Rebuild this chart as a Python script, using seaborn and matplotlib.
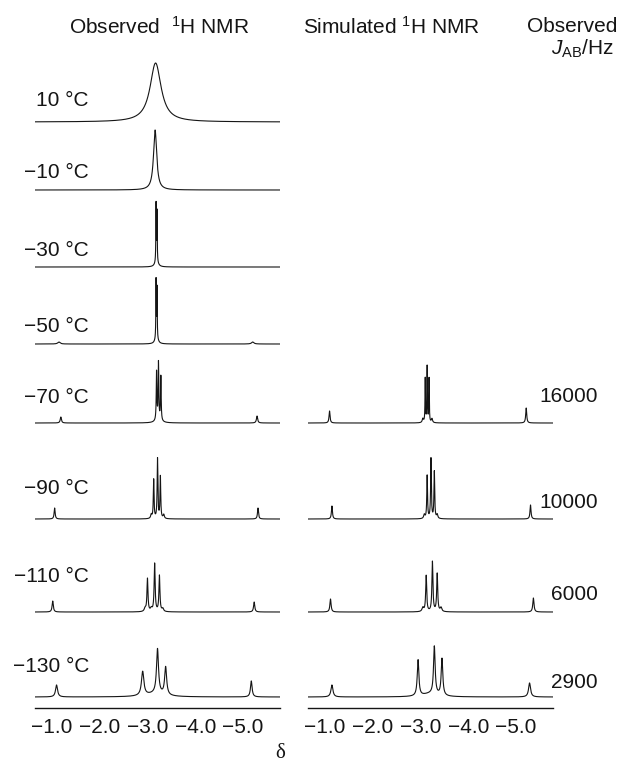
import numpy as np
import pandas as pd
import matplotlib
matplotlib.use("Agg")
import matplotlib.pyplot as plt
import seaborn as sns

# ---------------- data ----------------
# Each peak: (chemical shift in ppm, relative height, line width FWHM in ppm)
obs_temps = ["10 °C", "−10 °C", "−30 °C", "−50 °C", "−70 °C", "−90 °C", "−110 °C", "−130 °C"]
obs_10 = [(-3.17, 59, 0.28)]
obs_m10 = [(-3.16, 60, 0.08)]
obs_m30 = [(-3.18, 58, 0.010), (-3.20, 50, 0.010), (-3.19, 5, 0.08)]
obs_m50 = [(-1.15, 2, 0.06), (-3.18, 58, 0.010), (-3.20, 50, 0.010), (-3.19, 6, 0.07), (-5.20, 2, 0.06)]
obs_m70 = [(-1.19, 6, 0.03), (-3.19, 48, 0.015), (-3.23, 56, 0.015), (-3.28, 44, 0.015),
           (-3.23, 4, 0.12), (-5.29, 7, 0.03)]
obs_m90 = [(-1.06, 11, 0.025), (-3.13, 39, 0.018), (-3.21, 60, 0.018), (-3.27, 42, 0.018),
           (-3.08, 4, 0.03), (-3.34, 4, 0.03), (-5.31, 11, 0.025)]
obs_m110 = [(-1.02, 11, 0.03), (-3.00, 33, 0.025), (-3.15, 48, 0.025), (-3.25, 36, 0.025),
            (-2.95, 3, 0.04), (-3.08, 3, 0.04), (-3.32, 3, 0.04), (-5.23, 10, 0.03)]
obs_m130 = [(-1.10, 12, 0.05), (-2.90, 24, 0.06), (-3.21, 45, 0.05), (-3.38, 28, 0.05),
            (-3.15, 3, 0.5), (-5.17, 16, 0.04)]

sim_labels = ["16000", "10000", "6000", "2900"]
sim_m70 = [(-1.10, 12, 0.025), (-3.10, 44, 0.012), (-3.14, 56, 0.012), (-3.18, 44, 0.012),
           (-3.05, 4, 0.03), (-3.24, 4, 0.03), (-5.21, 15, 0.025)]
sim_m90 = [(-1.15, 13, 0.025), (-3.14, 43, 0.018), (-3.22, 60, 0.018), (-3.29, 47, 0.018),
           (-3.08, 4, 0.03), (-3.35, 4, 0.03), (-5.30, 14, 0.025)]
sim_m110 = [(-1.12, 13, 0.03), (-3.12, 36, 0.025), (-3.25, 50, 0.025), (-3.35, 38, 0.025),
            (-3.05, 4, 0.04), (-3.43, 4, 0.04), (-5.36, 14, 0.03)]
sim_m130 = [(-1.15, 12, 0.05), (-2.95, 36, 0.04), (-3.29, 48, 0.04), (-3.45, 37, 0.04),
            (-3.20, 3, 0.4), (-5.28, 14, 0.05)]

tick_values = [-1.0, -2.0, -3.0, -4.0, -5.0]
tick_labels = ["−1.0", "−2.0", "−3.0", "−4.0", "−5.0"]

# ---------------- layout (pixel based) ----------------
W, H = 618, 763
sns.set_style("white")
plt.rcParams["font.family"] = ["Liberation Sans", "DejaVu Sans"]
plt.rcParams["mathtext.fontset"] = "custom"
plt.rcParams["mathtext.rm"] = "Liberation Sans"
plt.rcParams["mathtext.it"] = "Liberation Sans:italic"

FS = 15
INK = "#151515"
axis_y = 708
top_y = 50
xlim = (-0.65, -5.77)

fig = plt.figure(figsize=(W / 100, H / 100), dpi=100)
def px_axes(x0, x1):
    return fig.add_axes([x0 / W, (H - axis_y) / H, (x1 - x0) / W, (axis_y - top_y) / H])

axL = px_axes(35, 280)
axR = px_axes(308, 553)

obs_base_px = [122, 190, 267, 344, 423, 519, 612, 697]
sim_base_px = [423, 519, 612, 697]

grid = np.linspace(xlim[0], xlim[1], 9000)

def spectrum(peaks):
    y = np.zeros_like(grid)
    for pos, amp, w in peaks:
        y += amp / (1.0 + ((grid - pos) / (w / 2.0)) ** 2)
    return y

def draw(ax, traces, bases):
    for peaks, b in zip(traces, bases):
        df = pd.DataFrame({"delta": grid, "I": (axis_y - b) + spectrum(peaks)})
        sns.lineplot(data=df, x="delta", y="I", ax=ax, color=INK, linewidth=0.8,
                     estimator=None, sort=False)

draw(axL, [obs_10, obs_m10, obs_m30, obs_m50, obs_m70, obs_m90, obs_m110, obs_m130], obs_base_px)
draw(axR, [sim_m70, sim_m90, sim_m110, sim_m130], sim_base_px)

for ax in (axL, axR):
    ax.set_xlim(*xlim)
    ax.set_ylim(0, axis_y - top_y)
    ax.set_xlabel("")
    ax.set_ylabel("")
    ax.set_yticks([])
    for s in ("top", "left", "right"):
        ax.spines[s].set_visible(False)
    ax.spines["bottom"].set_color(INK)
    ax.spines["bottom"].set_linewidth(1.0)
    ax.set_xticks(tick_values)
    ax.set_xticklabels(tick_labels, fontsize=FS, color=INK)
    ax.tick_params(axis="x", direction="out", length=3, width=0.8, color=INK, pad=4)
    ax.patch.set_alpha(0)

def ftext(x, y, s, **kw):
    fig.text(x / W, 1 - y / H, s, fontsize=FS, color=INK, va="center", **kw)

for lab, b in zip(obs_temps, [100, 173, 251, 326, 398, 488, 577, 667]):
    ftext(89, b, lab, ha="right")
for lab, b in zip(sim_labels, [397, 502, 595, 682]):
    ftext(598, b, lab, ha="right")

ftext(159, 27, r"Observed  $^{1}$H NMR", ha="center")
ftext(391, 27, r"Simulated $^{1}$H NMR", ha="center")
ftext(617, 27, "Observed", ha="right")
ftext(614, 49, r"$J_{\mathrm{AB}}$/Hz", ha="right")
fig.text(280 / W, 1 - 753 / H, "δ", fontsize=FS, color=INK, ha="center", va="center",
         family=["Liberation Serif", "DejaVu Serif"])

fig.savefig("out.png", dpi=100)
